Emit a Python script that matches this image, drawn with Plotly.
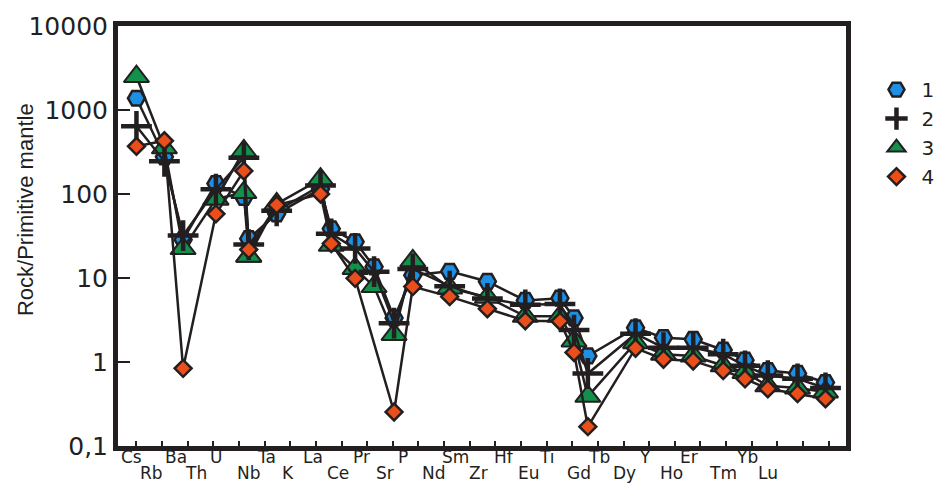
import plotly.graph_objects as go

# ---- element labels along the x axis (two staggered rows) ----
elements = ["Cs", "Rb", "Ba", "Th", "U", "Nb", "Ta", "K", "La", "Ce", "Pr", "Sr", "P", "Nd",
            "Sm", "Zr", "Hf", "Eu", "Ti", "Gd", "Tb", "Dy", "Y", "Ho", "Er", "Tm", "Yb", "Lu"]
label_pos = [-0.19, 0.58, 1.55, 2.33, 3.10, 4.38, 5.08, 5.90, 6.87, 7.87, 8.77, 9.70, 10.39, 11.60,
             12.45, 13.35, 14.35, 15.32, 16.02, 17.26, 18.04, 19.05, 19.85, 20.87, 21.57, 22.90, 23.80, 24.63]
tick_index = list(range(28))

# ---- measured data columns (position on the element axis, tick units) ----
x_pos = [0.0, 1.09, 1.82, 3.10, 4.19, 4.38, 5.47, 7.18, 7.60, 8.53, 9.27, 10.05, 10.78, 12.22,
         13.69, 15.17, 16.52, 17.07, 17.61, 19.47, 20.56, 21.72, 22.89, 23.74, 24.63, 25.79, 26.88]

series1 = [1380, 277, 28.6, 133, 91, 29.4, 58, 115, 38.5, 27, 13.6, 3.35, 10.8, 12,
           9.1, 5.4, 5.75, 3.35, 1.18, 2.55, 1.95, 1.86, 1.39, 1.05, 0.79, 0.73, 0.57]
series2 = [640, 245, 32, 114, 270, 25, 63, 126, 33.6, 22.5, 11.9, 2.9, 12.8, 8,
           5.7, 4.8, 4.9, 2.4, 0.73, 2.17, 1.48, 1.48, 1.24, 0.90, 0.69, 0.63, 0.49]
series3 = [2500, 355, 22.4, 87, 325, 18.2, 76, 150, 24.5, 13, 7.9, 2.13, 16, 7.6,
           5.9, 3.5, 3.5, 1.78, 0.39, 1.7, 1.24, 1.18, 0.90, 0.75, 0.52, 0.49, 0.44]
series3b = [None, None, None, 87, 104, 18.2, None, None, None, None, None, None, None, None,
            None, None, None, None, None, None, None, None, None, None, None, None, None]
series4 = [370, 430, 0.84, 58, 188, 21.8, 74, 100, 25.7, 9.9, None, 0.254, 7.9, 6.0,
           4.3, 3.1, 3.06, 1.3, 0.17, 1.46, 1.08, 1.03, 0.79, 0.63, 0.48, 0.42, 0.365]

legend_names = ["1", "2", "3", "4"]
y_tickvals = [0.1, 1, 10, 100, 1000, 10000]
y_ticktext = ["0,1", "1", "10", "100", "1000", "10000"]

INK = "#231f20"
BLUE = "#1e8fe3"
GREEN = "#13904b"
ORANGE = "#e94e1b"

m1 = dict(symbol="hexagon2", size=17, color=BLUE, line=dict(color=INK, width=2.5))
m2 = dict(symbol="cross-thin", size=22, color=INK, line=dict(color=INK, width=4.5))
m3 = dict(symbol="triangle-up", size=22, color=GREEN, line=dict(color=INK, width=2))
m4 = dict(symbol="diamond", size=13, color=ORANGE, line=dict(color=INK, width=2.5))
line_style = dict(color=INK, width=2.5)

fig = go.Figure()
for vals, mk, gaps in [(series1, m1, True), (series3, m3, True), (series3b, m3, False),
                       (series2, m2, True), (series4, m4, True)]:
    fig.add_trace(go.Scatter(x=x_pos, y=vals, mode="lines+markers", marker=mk,
                             line=line_style, showlegend=False, connectgaps=gaps,
                             hoverinfo="skip"))

# legend entries (markers only)
for name, mk in zip(legend_names, [m1, m2, m3, m4]):
    fig.add_trace(go.Scatter(x=[None], y=[None], mode="markers", marker=mk, name=name))

# element labels as two staggered rows
for i, (el, xp) in enumerate(zip(elements, label_pos)):
    fig.add_annotation(x=xp, y=-0.027 if i % 2 == 0 else -0.064, xref="x", yref="paper",
                       text=el, showarrow=False, xanchor="center", yanchor="middle",
                       font=dict(family="DejaVu Sans", size=17, color=INK))

fig.add_annotation(x=-0.127, y=0.563, xref="paper", yref="paper", text="Rock/Primitive mantle",
                   textangle=-90, showarrow=False, xanchor="center", yanchor="middle",
                   font=dict(family="Liberation Sans Narrow, Liberation Sans, sans-serif", size=22, color=INK))

fig.update_layout(
    width=951, height=483,
    margin=dict(l=118, r=100, t=22, b=37),
    paper_bgcolor="white", plot_bgcolor="white",
    legend=dict(x=1.035, y=0.895, xanchor="left", yanchor="top",
                font=dict(family="DejaVu Sans", size=20, color=INK),
                bgcolor="rgba(0,0,0,0)", itemwidth=40, traceorder="normal"),
)
fig.update_xaxes(range=[-0.72, 27.68], tickvals=tick_index, showticklabels=False,
                 ticks="inside", ticklen=5, tickwidth=2, tickcolor=INK,
                 showline=True, linewidth=5, linecolor=INK, mirror=True,
                 showgrid=False, zeroline=False)
fig.update_yaxes(type="log", range=[-1, 4], tickvals=y_tickvals, ticktext=y_ticktext,
                 ticks="inside", ticklen=12, tickwidth=2, tickcolor=INK,
                 tickfont=dict(family="DejaVu Sans", size=25, color=INK),
                 showline=True, linewidth=5, linecolor=INK, mirror=True,
                 showgrid=False, zeroline=False)

fig.write_html("out.html")
